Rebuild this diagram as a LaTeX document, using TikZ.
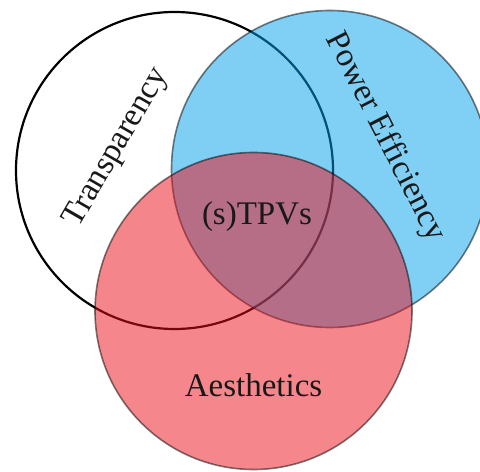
\documentclass[tikz,border=0pt]{standalone}
\usepackage{fontspec}
\setmainfont{Liberation Serif}
\usepackage{xcolor}
\usepackage{tikz}
\usetikzlibrary{positioning}

\definecolor{pwblue}{RGB}{1,159,235}
\definecolor{aered}{RGB}{235,15,25}

\begin{document}
\begin{tikzpicture}[x=1bp,y=1bp]
\tikzset{
  vc/.style={circle,minimum size=317bp,inner sep=0pt,line width=1.6bp},
  lb/.style={font=\fontsize{33bp}{40bp}\selectfont,text=black!90,inner sep=0pt}
}
\useasboundingbox (0,0) rectangle (480,472);
\clip (0,0) rectangle (480,472);
% the three sets
\node[vc,draw=black,fill=white,line width=2.2bp] (tr) at (174.5,301.5) {};
\node[vc,draw=black,fill=pwblue,opacity=0.5] (pe) at (330,303) {};
\node[vc,draw=black,fill=aered,opacity=0.5] (ae) at (253.5,161) {};
% labels
\node[lb,rotate=60] (trl) at (117,324) {Transparency};
\node[lb,rotate=-63] (pel) at (385,335) {Power Efficiency};
\node[lb,anchor=base] (tpv) at (257,247) {(s)TPVs};
\node[lb,anchor=base] (ael) at (253.5,75) {Aesthetics};
\end{tikzpicture}
\end{document}
